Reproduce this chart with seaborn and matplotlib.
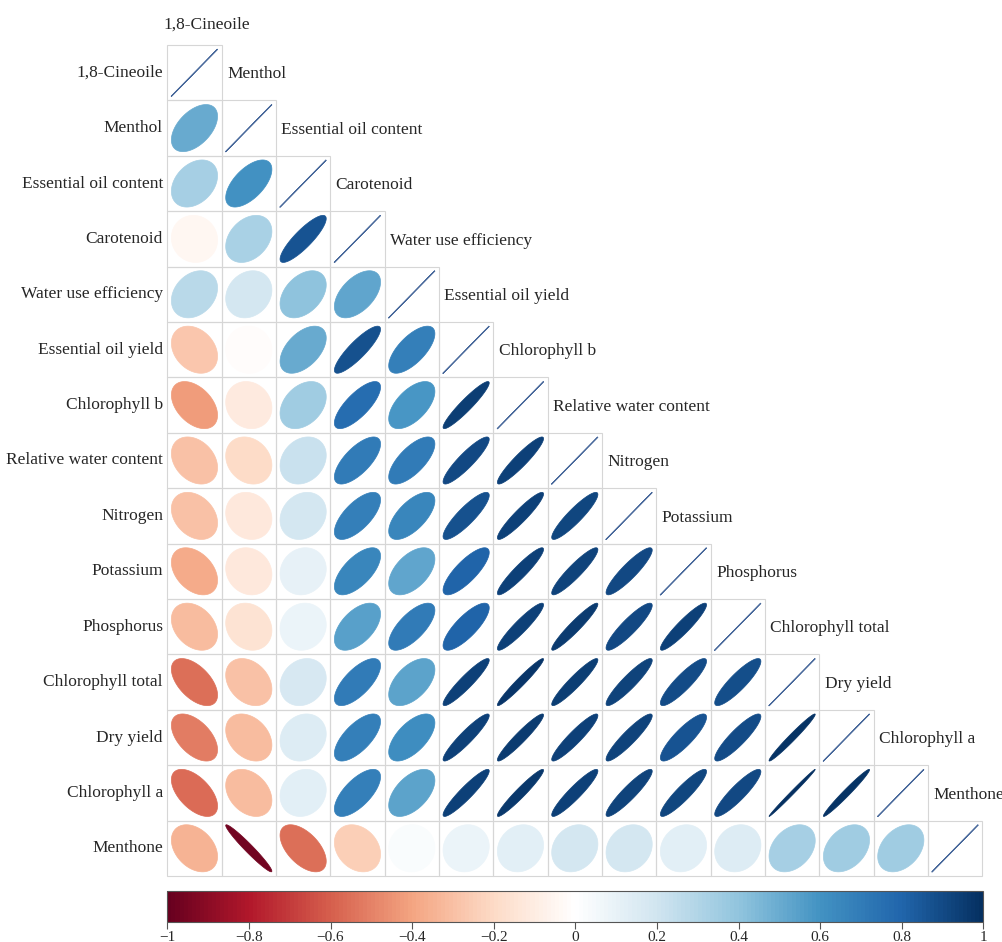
import numpy as np
import pandas as pd
import matplotlib
matplotlib.use("Agg")
import matplotlib.pyplot as plt
import seaborn as sns
from matplotlib.colors import LinearSegmentedColormap, ListedColormap, Normalize
from matplotlib.patches import Polygon, Rectangle
from matplotlib.cm import ScalarMappable

variables = [
    "1,8-Cineoile", "Menthol", "Essential oil content", "Carotenoid",
    "Water use efficiency", "Essential oil yield", "Chlorophyll b",
    "Relative water content", "Nitrogen", "Potassium", "Phosphorus",
    "Chlorophyll total", "Dry yield", "Chlorophyll a", "Menthone",
]

# Lower-triangle Pearson correlations, one list per row (columns follow `variables`)
r_cineoile = []
r_menthol = [0.50]
r_oil_content = [0.33, 0.60]
r_carotenoid = [-0.05, 0.32, 0.86]
r_wue = [0.27, 0.18, 0.40, 0.52]
r_oil_yield = [-0.28, -0.02, 0.50, 0.87, 0.68]
r_chl_b = [-0.43, -0.12, 0.35, 0.76, 0.58, 0.94]
r_rwc = [-0.30, -0.20, 0.22, 0.70, 0.70, 0.90, 0.93]
r_nitrogen = [-0.30, -0.13, 0.18, 0.68, 0.65, 0.87, 0.93, 0.91]
r_potassium = [-0.38, -0.13, 0.10, 0.65, 0.52, 0.80, 0.93, 0.92, 0.90]
r_phosphorus = [-0.32, -0.16, 0.08, 0.54, 0.70, 0.80, 0.93, 0.95, 0.90, 0.93]
r_chl_total = [-0.55, -0.30, 0.17, 0.70, 0.53, 0.93, 0.97, 0.94, 0.92, 0.89, 0.88]
r_dry_yield = [-0.52, -0.32, 0.15, 0.68, 0.62, 0.93, 0.95, 0.93, 0.92, 0.86, 0.89, 0.98]
r_chl_a = [-0.56, -0.32, 0.13, 0.68, 0.53, 0.93, 0.96, 0.93, 0.92, 0.91, 0.90, 0.995, 0.98]
r_menthone = [-0.35, -0.97, -0.55, -0.25, 0.02, 0.08, 0.13, 0.18, 0.18, 0.13, 0.14, 0.33, 0.35, 0.35]

rows = [r_cineoile, r_menthol, r_oil_content, r_carotenoid, r_wue, r_oil_yield,
        r_chl_b, r_rwc, r_nitrogen, r_potassium, r_phosphorus, r_chl_total,
        r_dry_yield, r_chl_a, r_menthone]

n = len(variables)
corr = np.full((n, n), np.nan)
for i, vals in enumerate(rows):
    corr[i, :i] = vals
    corr[i, i] = 1.0
    corr[:i, i] = vals
corr_df = pd.DataFrame(corr, index=variables, columns=variables)

rdbu = LinearSegmentedColormap.from_list(
    "corr_rdbu",
    ["#67001F", "#B2182B", "#D6604D", "#F4A582", "#FDDBC7", "#FFFFFF",
     "#D1E5F0", "#92C5DE", "#4393C3", "#2166AC", "#053061"], N=200)
norm = Normalize(-1, 1)

sns.set_style("white")
plt.rcParams["font.family"] = ["Liberation Serif", "DejaVu Serif"]
plt.rcParams["axes.unicode_minus"] = True

W, H = 1003, 942
fig = plt.figure(figsize=(W / 100, H / 100), dpi=100)
ax = fig.add_axes([167.3 / W, 1 - 876 / H, 815 / W, 831 / H])

# white background cells for the lower triangle (diagonal included)
mask = np.triu(np.ones((n, n), dtype=bool), k=1)
sns.heatmap(corr_df, mask=mask, cmap=ListedColormap(["white"]), cbar=False,
            linewidths=0, xticklabels=False, yticklabels=False, ax=ax)

# cell borders only where a cell is shown
for i in range(n):
    for j in range(i + 1):
        ax.add_patch(Rectangle((j, i), 1, 1, fill=False, edgecolor="#d6d6d6",
                               lw=0.8, clip_on=False, zorder=2))

# ellipse glyphs: shape and colour both encode the coefficient
k = np.linspace(0, 2 * np.pi, 99)
scale = 0.85
for i in range(n):
    for j in range(i + 1):
        rho = corr[i, j]
        cx, cy = j + 0.5, i + 0.5
        a = np.arccos(np.clip(rho, -1, 1))
        ex = np.cos(k + a / 2) / 2 * scale
        ey = np.cos(k - a / 2) / 2 * scale
        if i == j:
            ax.plot(cx + ex, cy - ey, color="#4a6a9c", lw=0.8,
                    solid_capstyle="butt", zorder=3)
        else:
            col = rdbu(norm(rho))
            ax.add_patch(Polygon(np.column_stack([cx + ex, cy - ey]),
                                 closed=True, facecolor=col, edgecolor=col,
                                 lw=0.5, zorder=3))

label_size = 12.5
for i, name in enumerate(variables):
    ax.text(-0.08, i + 0.5, name, ha="right", va="center", fontsize=label_size)
    if i == 0:
        ax.text(-0.07, -0.36, name, ha="left", va="center", fontsize=label_size,
                clip_on=False)
    else:
        ax.text(i + 0.1, i - 0.47, name, ha="left", va="center",
                fontsize=label_size, clip_on=False)

# colour legend
cax = fig.add_axes([167.3 / W, 1 - 922 / H, 816 / W, 31 / H])
cb = fig.colorbar(ScalarMappable(norm=norm, cmap=rdbu), cax=cax,
                  orientation="horizontal")
ticks = np.round(np.arange(-1, 1.01, 0.2), 1)
cb.set_ticks(ticks)
cb.set_ticklabels([("%g" % t).replace("-", "\u2212") if t != 0 else "0" for t in ticks])
cb.outline.set_linewidth(0.8)
cb.outline.set_edgecolor("#555555")
cax.tick_params(length=5, width=0.8, pad=1.5, labelsize=11, color="#555555")

fig.savefig("out.png", dpi=100)
